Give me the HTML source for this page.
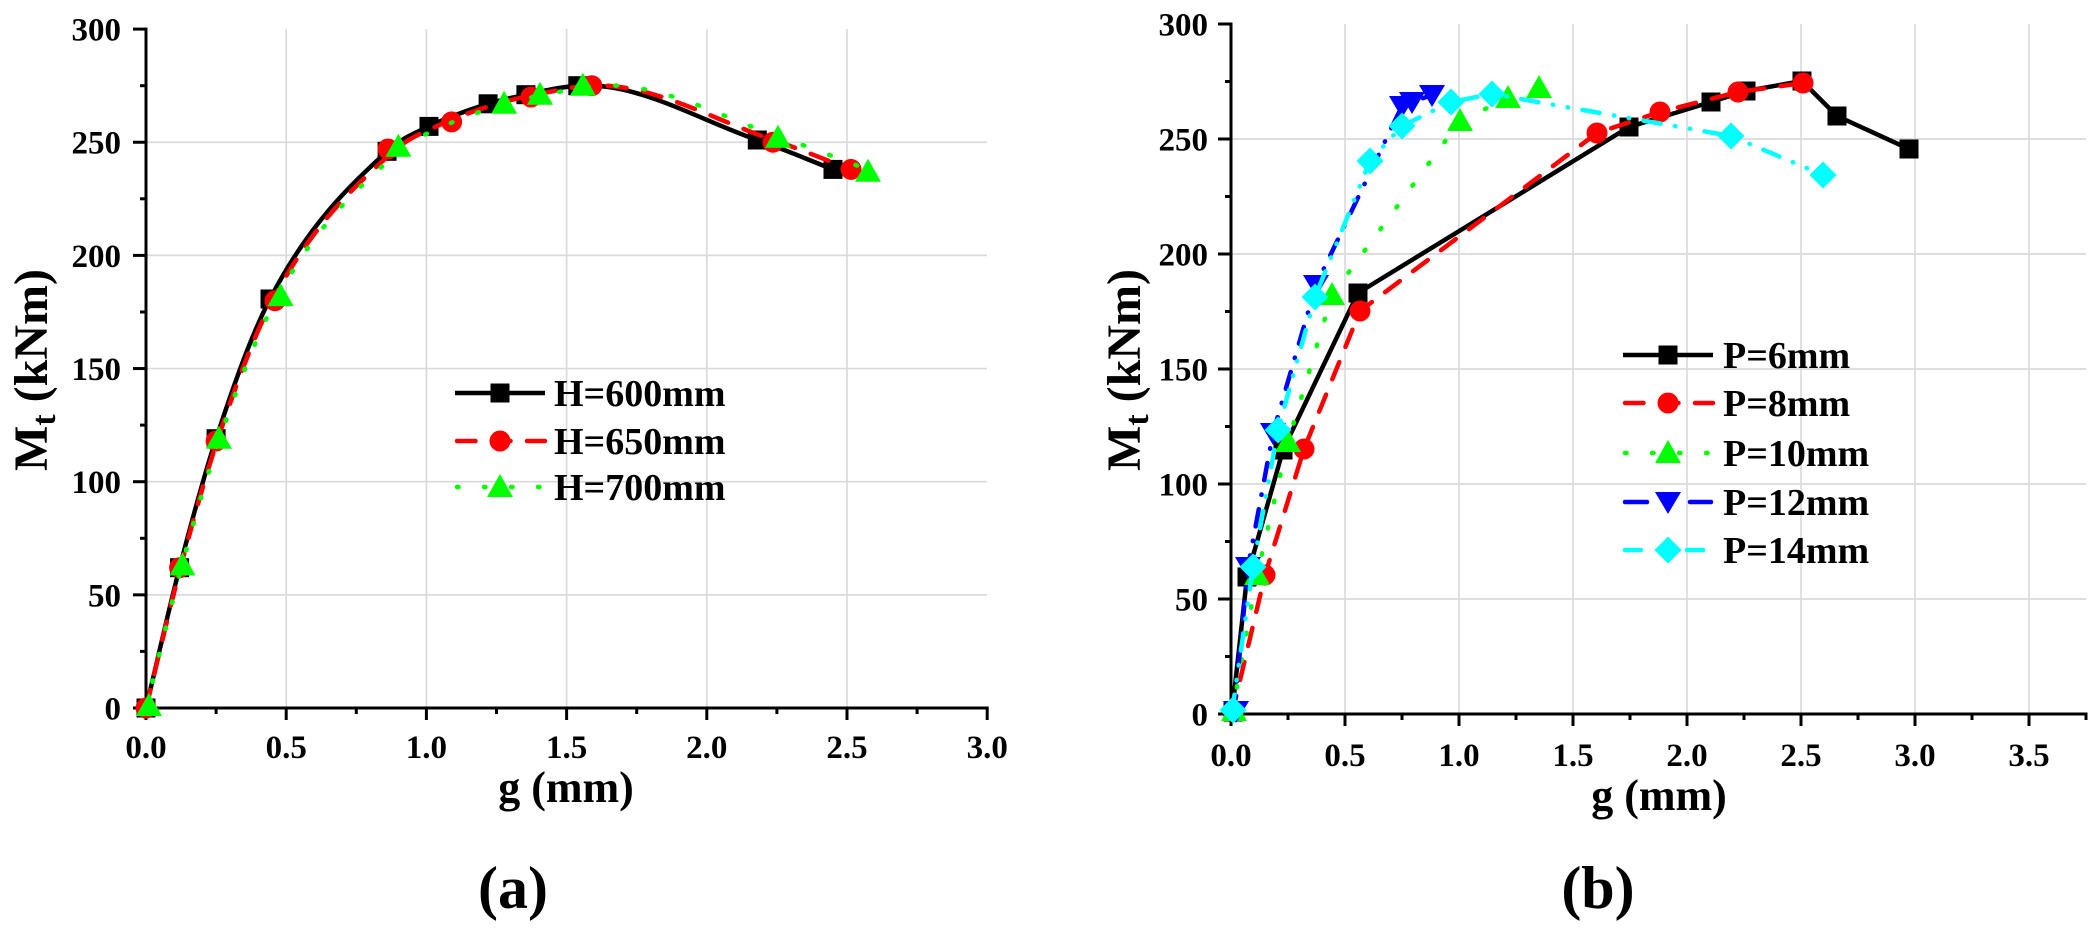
<!DOCTYPE html>
<html>
<head>
<meta charset="utf-8">
<style>
html,body{margin:0;padding:0;background:#fff;width:2100px;height:928px;overflow:hidden}
svg{display:block}
text{font-family:"Liberation Serif","Times New Roman",serif;font-weight:bold;fill:#000}
</style>
</head>
<body>
<svg width="2100" height="928" viewBox="0 0 2100 928" xmlns="http://www.w3.org/2000/svg">
<defs>
  <rect id="sq" x="-9.5" y="-9.5" width="19" height="19"/>
  <circle id="ci" cx="0" cy="0" r="10.5"/>
  <polygon id="tu" points="0,-13 -13,10 13,10"/>
  <polygon id="td" points="-13,-10 13,-10 0,12"/>
  <polygon id="di" points="0,-13.5 13.5,0 0,13.5 -13.5,0"/>
</defs>
<rect width="2100" height="928" fill="#fff"/>

<!-- ================= LEFT CHART (a) ================= -->
<g stroke="#dadada" stroke-width="1.7" fill="none">
  <line x1="286.2" y1="29" x2="286.2" y2="708"/>
  <line x1="426.4" y1="29" x2="426.4" y2="708"/>
  <line x1="566.6" y1="29" x2="566.6" y2="708"/>
  <line x1="706.8" y1="29" x2="706.8" y2="708"/>
  <line x1="847" y1="29" x2="847" y2="708"/>
  <line x1="146" y1="594.85" x2="987" y2="594.85"/>
  <line x1="146" y1="481.7" x2="987" y2="481.7"/>
  <line x1="146" y1="368.55" x2="987" y2="368.55"/>
  <line x1="146" y1="255.4" x2="987" y2="255.4"/>
  <line x1="146" y1="142.25" x2="987" y2="142.25"/>
</g>
<g stroke="#000" stroke-width="3" fill="none">
  <line x1="146" y1="27.6" x2="146" y2="709.5"/>
  <line x1="133" y1="708" x2="988.7" y2="708"/>
  <line x1="133" y1="594.85" x2="146" y2="594.85"/>
  <line x1="133" y1="481.7" x2="146" y2="481.7"/>
  <line x1="133" y1="368.55" x2="146" y2="368.55"/>
  <line x1="133" y1="255.4" x2="146" y2="255.4"/>
  <line x1="133" y1="142.25" x2="146" y2="142.25"/>
  <line x1="133" y1="29.1" x2="146" y2="29.1"/>
  <line x1="140" y1="651.4" x2="146" y2="651.4"/>
  <line x1="140" y1="538.3" x2="146" y2="538.3"/>
  <line x1="140" y1="425.1" x2="146" y2="425.1"/>
  <line x1="140" y1="312" x2="146" y2="312"/>
  <line x1="140" y1="198.8" x2="146" y2="198.8"/>
  <line x1="140" y1="85.7" x2="146" y2="85.7"/>
  <line x1="146" y1="708" x2="146" y2="720"/>
  <line x1="286.2" y1="708" x2="286.2" y2="720"/>
  <line x1="426.4" y1="708" x2="426.4" y2="720"/>
  <line x1="566.6" y1="708" x2="566.6" y2="720"/>
  <line x1="706.8" y1="708" x2="706.8" y2="720"/>
  <line x1="847" y1="708" x2="847" y2="720"/>
  <line x1="987.2" y1="708" x2="987.2" y2="720"/>
  <line x1="216.1" y1="708" x2="216.1" y2="714"/>
  <line x1="356.3" y1="708" x2="356.3" y2="714"/>
  <line x1="496.5" y1="708" x2="496.5" y2="714"/>
  <line x1="636.7" y1="708" x2="636.7" y2="714"/>
  <line x1="776.9" y1="708" x2="776.9" y2="714"/>
  <line x1="917.1" y1="708" x2="917.1" y2="714"/>
</g>
<g font-size="33" text-anchor="end">
  <text x="121" y="719.5">0</text>
  <text x="121" y="606.3">50</text>
  <text x="121" y="493.2">100</text>
  <text x="121" y="380">150</text>
  <text x="121" y="266.9">200</text>
  <text x="121" y="153.7">250</text>
  <text x="121" y="40.6">300</text>
</g>
<g font-size="33" text-anchor="middle">
  <text x="146" y="758">0.0</text>
  <text x="286.2" y="758">0.5</text>
  <text x="426.4" y="758">1.0</text>
  <text x="566.6" y="758">1.5</text>
  <text x="706.8" y="758">2.0</text>
  <text x="847" y="758">2.5</text>
  <text x="987.2" y="758">3.0</text>
</g>
<text x="566" y="802" font-size="44" text-anchor="middle">g (mm)</text>
<text transform="translate(47,370) rotate(-90)" font-size="48" text-anchor="middle">M<tspan font-size="34" dy="8">t</tspan><tspan dy="-8"> (kNm)</tspan></text>

<g fill="none" stroke-width="4.5">
  <path stroke="#000" stroke-linejoin="round" d="M146,708 C157.2,661.2 168.4,610.9 179.6,567.7 C191.8,520.8 203.9,476 216.1,438.7 C234.1,383.7 252,333.6 270,299 C309,223.8 348.1,187.5 387.1,151.3 C401.1,138.3 415,133.2 429,126.4 C448.7,116.8 468.4,110 488.1,103.8 C500.7,99.9 513.3,97.3 525.9,94.7 C543.2,91.1 560.5,86.8 577.8,85.7 C637.6,81.8 697.5,119.4 757.3,140 C782.5,148.7 807.8,159.6 833,169.4"/>
</g>
<g fill="#000">
  <use href="#sq" x="146" y="708"/>
  <use href="#sq" x="179.6" y="567.7"/>
  <use href="#sq" x="216.1" y="438.7"/>
  <use href="#sq" x="270" y="299"/>
  <use href="#sq" x="387.1" y="151.3"/>
  <use href="#sq" x="429" y="126.4"/>
  <use href="#sq" x="488.1" y="103.8"/>
  <use href="#sq" x="525.9" y="94.7"/>
  <use href="#sq" x="577.8" y="85.7"/>
  <use href="#sq" x="757.3" y="140"/>
  <use href="#sq" x="833" y="169.4"/>
</g>
<path fill="none" stroke="#ff0000" stroke-width="4.5" stroke-linecap="round" stroke-dasharray="18.5 16.5" transform="matrix(1.026,0,0,1,-3.796,0)" d="M146,708 C157.2,661.2 168.4,610.9 179.6,567.7 C191.8,520.8 203.9,476 216.1,438.7 C234.1,383.7 252,333.6 270,299 C309,223.8 348.1,187.5 387.1,151.3 C401.1,138.3 415,133.2 429,126.4 C448.7,116.8 468.4,110 488.1,103.8 C500.7,99.9 513.3,97.3 525.9,94.7 C543.2,91.1 560.5,86.8 577.8,85.7 C637.6,81.8 697.5,119.4 757.3,140 C782.5,148.7 807.8,159.6 833,169.4"/>
<g fill="#ff0000">
  <use href="#ci" x="146" y="708"/>
  <use href="#ci" x="179.6" y="567.7"/>
  <use href="#ci" x="216.1" y="441"/>
  <use href="#ci" x="275" y="300.7"/>
  <use href="#ci" x="388" y="149"/>
  <use href="#ci" x="451.6" y="121.9"/>
  <use href="#ci" x="531" y="97"/>
  <use href="#ci" x="591.8" y="85.7"/>
  <use href="#ci" x="773" y="142.2"/>
  <use href="#ci" x="851" y="169.4"/>
</g>
<path fill="none" stroke="#00ff00" stroke-width="4.5" stroke-linecap="round" stroke-dasharray="1.5 25.5" transform="matrix(1.05,0,0,1,-7.3,0)" d="M146,708 C157.2,661.2 168.4,610.9 179.6,567.7 C191.8,520.8 203.9,476 216.1,438.7 C234.1,383.7 252,333.6 270,299 C309,223.8 348.1,187.5 387.1,151.3 C401.1,138.3 415,133.2 429,126.4 C448.7,116.8 468.4,110 488.1,103.8 C500.7,99.9 513.3,97.3 525.9,94.7 C543.2,91.1 560.5,86.8 577.8,85.7 C637.6,81.8 697.5,119.4 757.3,140 C782.5,148.7 807.8,159.6 833,169.4"/>
<g fill="#00ff00">
  <use href="#tu" x="149" y="706"/>
  <use href="#tu" x="182.5" y="565.4"/>
  <use href="#tu" x="218.9" y="438.7"/>
  <use href="#tu" x="280.6" y="296.1"/>
  <use href="#tu" x="398.4" y="146.8"/>
  <use href="#tu" x="504.1" y="103.8"/>
  <use href="#tu" x="540" y="94.7"/>
  <use href="#tu" x="582.9" y="85.7"/>
  <use href="#tu" x="778" y="137.7"/>
  <use href="#tu" x="868" y="171.7"/>
</g>

<g stroke-width="4.5" fill="none">
  <line x1="455" y1="393" x2="545" y2="393" stroke="#000"/>
  <line x1="457" y1="441" x2="545" y2="441" stroke="#ff0000" stroke-linecap="round" stroke-dasharray="18.5 16.5"/>
  <line x1="457" y1="487" x2="545" y2="487" stroke="#00ff00" stroke-linecap="round" stroke-dasharray="1.5 25.5"/>
</g>
<use href="#sq" x="500" y="393" fill="#000"/>
<use href="#ci" x="500" y="441" fill="#ff0000"/>
<use href="#tu" x="500" y="487" fill="#00ff00"/>
<g font-size="38">
  <text x="554" y="406">H=600mm</text>
  <text x="554" y="454">H=650mm</text>
  <text x="554" y="500">H=700mm</text>
</g>

<text x="513" y="908" font-size="60" text-anchor="middle">(a)</text>

<!-- ================= RIGHT CHART (b) ================= -->
<g stroke="#dadada" stroke-width="1.7" fill="none">
  <line x1="1345" y1="24" x2="1345" y2="714"/>
  <line x1="1459" y1="24" x2="1459" y2="714"/>
  <line x1="1573" y1="24" x2="1573" y2="714"/>
  <line x1="1687" y1="24" x2="1687" y2="714"/>
  <line x1="1801" y1="24" x2="1801" y2="714"/>
  <line x1="1915" y1="24" x2="1915" y2="714"/>
  <line x1="2029" y1="24" x2="2029" y2="714"/>
  <line x1="1231" y1="599" x2="2086" y2="599"/>
  <line x1="1231" y1="484" x2="2086" y2="484"/>
  <line x1="1231" y1="369" x2="2086" y2="369"/>
  <line x1="1231" y1="254" x2="2086" y2="254"/>
  <line x1="1231" y1="139" x2="2086" y2="139"/>
</g>
<g stroke="#000" stroke-width="3" fill="none">
  <line x1="1231" y1="22.5" x2="1231" y2="715.5"/>
  <line x1="1218" y1="714" x2="2087.5" y2="714"/>
  <line x1="1218" y1="599" x2="1231" y2="599"/>
  <line x1="1218" y1="484" x2="1231" y2="484"/>
  <line x1="1218" y1="369" x2="1231" y2="369"/>
  <line x1="1218" y1="254" x2="1231" y2="254"/>
  <line x1="1218" y1="139" x2="1231" y2="139"/>
  <line x1="1218" y1="24" x2="1231" y2="24"/>
  <line x1="1225" y1="656.5" x2="1231" y2="656.5"/>
  <line x1="1225" y1="541.5" x2="1231" y2="541.5"/>
  <line x1="1225" y1="426.5" x2="1231" y2="426.5"/>
  <line x1="1225" y1="311.5" x2="1231" y2="311.5"/>
  <line x1="1225" y1="196.5" x2="1231" y2="196.5"/>
  <line x1="1225" y1="81.5" x2="1231" y2="81.5"/>
  <line x1="1231" y1="714" x2="1231" y2="726"/>
  <line x1="1345" y1="714" x2="1345" y2="726"/>
  <line x1="1459" y1="714" x2="1459" y2="726"/>
  <line x1="1573" y1="714" x2="1573" y2="726"/>
  <line x1="1687" y1="714" x2="1687" y2="726"/>
  <line x1="1801" y1="714" x2="1801" y2="726"/>
  <line x1="1915" y1="714" x2="1915" y2="726"/>
  <line x1="2029" y1="714" x2="2029" y2="726"/>
  <line x1="1288" y1="714" x2="1288" y2="720"/>
  <line x1="1402" y1="714" x2="1402" y2="720"/>
  <line x1="1516" y1="714" x2="1516" y2="720"/>
  <line x1="1630" y1="714" x2="1630" y2="720"/>
  <line x1="1744" y1="714" x2="1744" y2="720"/>
  <line x1="1858" y1="714" x2="1858" y2="720"/>
  <line x1="1972" y1="714" x2="1972" y2="720"/>
  <line x1="2086" y1="714" x2="2086" y2="720"/>
</g>
<g font-size="33" text-anchor="end">
  <text x="1208" y="725.5">0</text>
  <text x="1208" y="610.5">50</text>
  <text x="1208" y="495.5">100</text>
  <text x="1208" y="380.5">150</text>
  <text x="1208" y="265.5">200</text>
  <text x="1208" y="150.5">250</text>
  <text x="1208" y="35.5">300</text>
</g>
<g font-size="33" text-anchor="middle">
  <text x="1231" y="766">0.0</text>
  <text x="1345" y="766">0.5</text>
  <text x="1459" y="766">1.0</text>
  <text x="1573" y="766">1.5</text>
  <text x="1687" y="766">2.0</text>
  <text x="1801" y="766">2.5</text>
  <text x="1915" y="766">3.0</text>
  <text x="2029" y="766">3.5</text>
</g>
<text x="1659" y="810" font-size="44" text-anchor="middle">g (mm)</text>
<text transform="translate(1140,370) rotate(-90)" font-size="48" text-anchor="middle">M<tspan font-size="34" dy="8">t</tspan><tspan dy="-8"> (kNm)</tspan></text>

<polyline fill="none" stroke="#000" stroke-width="4.5" stroke-linejoin="round" points="1232,713 1247,577 1283,450 1358,293 1629,127 1711,102 1746,91 1802,81 1837,116 1909,149"/>
<g fill="#000">
  <use href="#sq" x="1233" y="712"/>
  <use href="#sq" x="1247" y="577"/>
  <use href="#sq" x="1283" y="450"/>
  <use href="#sq" x="1358" y="293"/>
  <use href="#sq" x="1629" y="127"/>
  <use href="#sq" x="1711" y="102"/>
  <use href="#sq" x="1746" y="91"/>
  <use href="#sq" x="1802" y="81"/>
  <use href="#sq" x="1837" y="116"/>
  <use href="#sq" x="1909" y="149"/>
</g>
<polyline fill="none" stroke="#ff0000" stroke-width="4.5" stroke-linecap="round" stroke-dasharray="18.5 16.5" points="1232,714 1265,575 1304,449 1360,311 1597,133 1660,112 1738,92 1803,83"/>
<g fill="#ff0000">
  <use href="#ci" x="1265" y="575"/>
  <use href="#ci" x="1304" y="449"/>
  <use href="#ci" x="1360" y="311"/>
  <use href="#ci" x="1597" y="133"/>
  <use href="#ci" x="1660" y="112"/>
  <use href="#ci" x="1738" y="92"/>
  <use href="#ci" x="1803" y="83"/>
</g>
<polyline fill="none" stroke="#00ff00" stroke-width="4.5" stroke-linecap="round" stroke-dasharray="1.5 25.5" points="1232,714 1257,575 1288,442 1332,295 1460,121 1508,98 1539,88"/>
<g fill="#00ff00">
  <use href="#tu" x="1234" y="711"/>
  <use href="#tu" x="1257" y="575"/>
  <use href="#tu" x="1288" y="442"/>
  <use href="#tu" x="1332" y="295"/>
  <use href="#tu" x="1460" y="121"/>
  <use href="#tu" x="1508" y="98"/>
  <use href="#tu" x="1539" y="88"/>
</g>
<polyline fill="none" stroke="#0000ff" stroke-width="4.5" stroke-linecap="round" stroke-dasharray="17.5 14.5 0.5 14.5" points="1234,713 1248,567 1273,433 1316,285 1402,106 1412,102 1432,95"/>
<g fill="#0000ff">
  <use href="#td" x="1236" y="711"/>
  <use href="#td" x="1248" y="567"/>
  <use href="#td" x="1273" y="433"/>
  <use href="#td" x="1316" y="285"/>
  <use href="#td" x="1402" y="106"/>
  <use href="#td" x="1412" y="102"/>
  <use href="#td" x="1432" y="95"/>
</g>
<polyline fill="none" stroke="#00ffff" stroke-width="4.5" stroke-linecap="round" stroke-dasharray="17.5 14.5 0.5 14.5 0.5 14.5" points="1232,712 1253,567 1278,430 1315,297 1370,161 1402,126 1451,102 1492,94 1731,136 1823,175"/>
<g fill="#00ffff">
  <use href="#di" x="1233" y="710"/>
  <use href="#di" x="1253" y="567"/>
  <use href="#di" x="1278" y="430"/>
  <use href="#di" x="1315" y="297"/>
  <use href="#di" x="1370" y="161"/>
  <use href="#di" x="1402" y="126"/>
  <use href="#di" x="1451" y="102"/>
  <use href="#di" x="1492" y="94"/>
  <use href="#di" x="1731" y="136"/>
  <use href="#di" x="1823" y="175"/>
</g>

<g stroke-width="4.5" fill="none">
  <line x1="1623" y1="355" x2="1713" y2="355" stroke="#000"/>
  <line x1="1625" y1="403" x2="1713" y2="403" stroke="#ff0000" stroke-linecap="round" stroke-dasharray="18.5 16.5"/>
  <line x1="1625" y1="453" x2="1713" y2="453" stroke="#00ff00" stroke-linecap="round" stroke-dasharray="1.5 25.5"/>
  <line x1="1625" y1="502" x2="1711" y2="502" stroke="#0000ff" stroke-linecap="round" stroke-dasharray="22 80"/>
  <line x1="1690" y1="502" x2="1711" y2="502" stroke="#0000ff" stroke-linecap="round"/>
  <line x1="1625" y1="550" x2="1641" y2="550" stroke="#00ffff" stroke-linecap="round"/>
  <line x1="1687" y1="550" x2="1703" y2="550" stroke="#00ffff" stroke-linecap="round"/>
</g>
<use href="#sq" x="1668" y="355" fill="#000"/>
<use href="#ci" x="1668" y="403" fill="#ff0000"/>
<use href="#tu" x="1668" y="453" fill="#00ff00"/>
<use href="#td" x="1668" y="502" fill="#0000ff"/>
<use href="#di" x="1668" y="550" fill="#00ffff"/>
<g font-size="38">
  <text x="1723" y="368">P=6mm</text>
  <text x="1723" y="416">P=8mm</text>
  <text x="1723" y="466">P=10mm</text>
  <text x="1723" y="515">P=12mm</text>
  <text x="1723" y="563">P=14mm</text>
</g>

<text x="1598" y="908" font-size="60" text-anchor="middle">(b)</text>
</svg>
</body>
</html>
